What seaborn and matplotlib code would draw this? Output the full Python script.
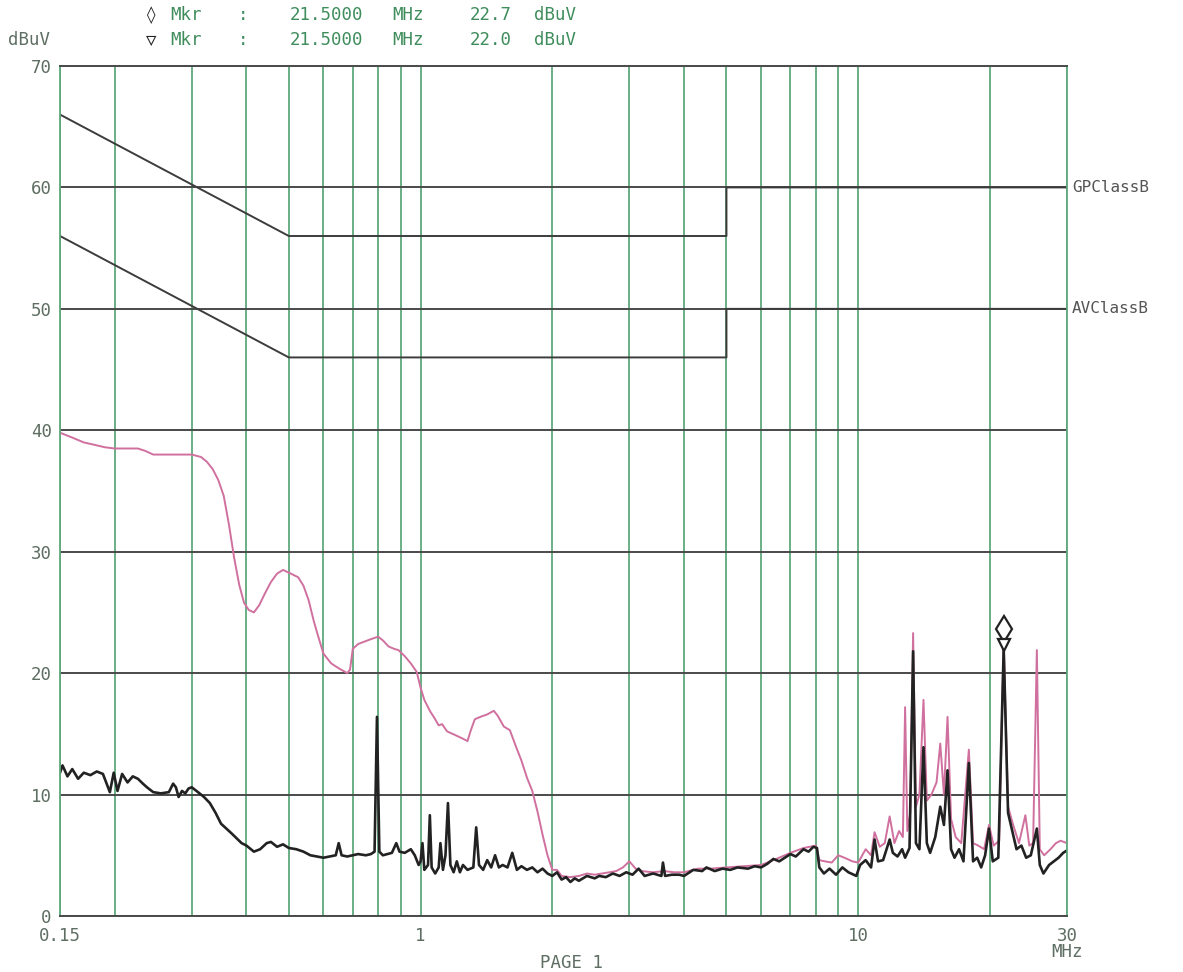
import numpy as np
import pandas as pd
import matplotlib
matplotlib.use("Agg")
import matplotlib.pyplot as plt
import seaborn as sns
from matplotlib.transforms import offset_copy

# ---------------- data ----------------
av_freq = [0.150, 0.152, 0.156, 0.160, 0.165, 0.170, 0.176, 0.182, 0.188, 0.195,
           0.199, 0.203, 0.208, 0.214, 0.220, 0.226, 0.232, 0.237, 0.245, 0.255,
           0.266, 0.272, 0.276, 0.280, 0.285, 0.290, 0.295, 0.300, 0.310, 0.320,
           0.330, 0.340, 0.350, 0.360, 0.370, 0.380, 0.390, 0.400, 0.416, 0.430,
           0.445, 0.455, 0.470, 0.485, 0.500, 0.520, 0.540, 0.560, 0.580, 0.600,
           0.620, 0.640, 0.650, 0.660, 0.680, 0.700, 0.720, 0.750, 0.770, 0.785,
           0.795, 0.805, 0.820, 0.840, 0.860, 0.880, 0.895, 0.920, 0.950, 0.970,
           0.990, 1.000, 1.010, 1.020, 1.040, 1.050, 1.060, 1.080, 1.100, 1.110,
           1.125, 1.140, 1.155, 1.170, 1.190, 1.210, 1.230, 1.250, 1.280, 1.320,
           1.340, 1.360, 1.390, 1.420, 1.450, 1.480, 1.510, 1.540, 1.580, 1.620,
           1.660, 1.700, 1.750, 1.800, 1.850, 1.900, 1.950, 2.000, 2.050, 2.100,
           2.150, 2.200, 2.250, 2.300, 2.400, 2.500, 2.560, 2.650, 2.750, 2.850,
           2.950, 3.050, 3.150, 3.250, 3.400, 3.550, 3.580, 3.620, 3.750, 3.900,
           4.000, 4.200, 4.400, 4.500, 4.700, 4.900, 5.100, 5.300, 5.600, 5.800,
           6.000, 6.200, 6.400, 6.600, 6.800, 7.000, 7.200, 7.500, 7.700, 7.900,
           8.050, 8.150, 8.350, 8.600, 8.900, 9.200, 9.500, 9.900, 10.100, 10.400,
           10.700, 10.900, 11.100, 11.400, 11.800, 12.000, 12.300, 12.600, 12.800, 13.100,
           13.350, 13.550, 13.800, 14.100, 14.350, 14.600, 15.000, 15.400, 15.700, 16.000,
           16.300, 16.600, 17.000, 17.400, 17.900, 18.300, 18.700, 19.100, 19.500, 19.900,
           20.300, 20.900, 21.500, 22.000, 22.500, 23.000, 23.600, 24.200, 24.800, 25.600,
           26.000, 26.500, 27.300, 28.000, 28.700, 29.400, 30.000]
av_level = [11.8, 12.4, 11.5, 12.1, 11.3, 11.8, 11.6, 11.9, 11.7, 10.2,
            11.8, 10.3, 11.7, 11.0, 11.5, 11.3, 10.9, 10.6, 10.2, 10.1,
            10.2, 10.9, 10.6, 9.8, 10.3, 10.1, 10.5, 10.6, 10.2, 9.8,
            9.3, 8.5, 7.6, 7.2, 6.8, 6.4, 6.0, 5.8, 5.3, 5.5,
            6.0, 6.1, 5.7, 5.9, 5.6, 5.5, 5.3, 5.0, 4.9, 4.8,
            4.9, 5.0, 6.0, 5.0, 4.9, 5.0, 5.1, 5.0, 5.1, 5.3,
            16.4, 5.3, 5.0, 5.1, 5.2, 6.0, 5.3, 5.2, 5.5, 5.0,
            4.2, 4.5, 6.0, 3.8, 4.2, 8.3, 4.0, 3.5, 4.0, 6.0,
            3.8, 5.0, 9.3, 4.2, 3.6, 4.5, 3.6, 4.2, 3.8, 4.0,
            7.3, 4.2, 3.8, 4.6, 4.0, 5.0, 4.0, 4.2, 4.0, 5.2,
            3.8, 4.1, 3.8, 4.0, 3.6, 3.9, 3.5, 3.3, 3.6, 3.0,
            3.2, 2.8, 3.1, 2.9, 3.3, 3.1, 3.3, 3.2, 3.5, 3.3,
            3.6, 3.4, 3.9, 3.3, 3.5, 3.3, 4.4, 3.3, 3.4, 3.4,
            3.3, 3.8, 3.7, 4.0, 3.7, 3.9, 3.8, 4.0, 3.9, 4.1,
            4.0, 4.3, 4.7, 4.5, 4.8, 5.1, 4.9, 5.5, 5.3, 5.7,
            5.6, 4.0, 3.5, 3.9, 3.4, 4.0, 3.6, 3.3, 4.2, 4.6,
            4.0, 6.3, 4.5, 4.6, 6.3, 5.2, 4.9, 5.5, 4.8, 5.6,
            21.8, 6.0, 5.5, 13.9, 6.0, 5.2, 6.5, 9.0, 7.5, 12.0,
            5.5, 4.8, 5.5, 4.5, 12.6, 4.5, 4.8, 4.0, 5.0, 7.2,
            4.5, 4.8, 22.0, 8.5, 7.0, 5.5, 5.8, 4.8, 5.0, 7.2,
            4.2, 3.5, 4.2, 4.5, 4.8, 5.2, 5.4]

qp_freq = [0.150, 0.160, 0.170, 0.180, 0.190, 0.200, 0.215, 0.226, 0.235, 0.245,
           0.260, 0.280, 0.300, 0.315, 0.325, 0.335, 0.345, 0.355, 0.365, 0.375,
           0.385, 0.395, 0.405, 0.416, 0.428, 0.440, 0.455, 0.470, 0.485, 0.505,
           0.525, 0.540, 0.555, 0.570, 0.585, 0.600, 0.625, 0.650, 0.680, 0.690,
           0.700, 0.720, 0.745, 0.770, 0.800, 0.820, 0.845, 0.870, 0.890, 0.920,
           0.950, 0.980, 1.000, 1.020, 1.050, 1.080, 1.100, 1.120, 1.150, 1.200,
           1.250, 1.280, 1.300, 1.330, 1.370, 1.420, 1.470, 1.500, 1.550, 1.600,
           1.650, 1.700, 1.750, 1.800, 1.850, 1.900, 1.950, 2.000, 2.050, 2.100,
           2.200, 2.300, 2.400, 2.500, 2.600, 2.700, 2.800, 2.900, 3.000, 3.100,
           3.200, 3.400, 3.600, 3.800, 4.000, 4.300, 4.600, 5.000, 5.500, 6.000,
           6.500, 7.000, 7.500, 8.000, 8.150, 8.400, 8.700, 9.000, 9.300, 9.700,
           10.000, 10.400, 10.700, 10.900, 11.200, 11.500, 11.800, 12.100, 12.400, 12.650,
           12.800, 12.950, 13.150, 13.350, 13.550, 13.800, 14.100, 14.350, 14.700, 15.100,
           15.400, 15.700, 16.000, 16.300, 16.700, 17.200, 17.900, 18.300, 18.800, 19.400,
           19.900, 20.400, 21.000, 21.500, 22.000, 22.600, 23.300, 24.100, 24.600, 25.100,
           25.600, 26.000, 26.600, 27.500, 28.300, 29.000, 30.000]
qp_level = [39.8, 39.4, 39.0, 38.8, 38.6, 38.5, 38.5, 38.5, 38.3, 38.0,
            38.0, 38.0, 38.0, 37.8, 37.4, 36.8, 35.9, 34.6, 32.2, 29.5,
            27.3, 25.8, 25.2, 25.0, 25.6, 26.5, 27.5, 28.2, 28.5, 28.2,
            27.9, 27.2, 26.0, 24.3, 22.9, 21.6, 20.8, 20.4, 20.0, 20.3,
            22.0, 22.4, 22.6, 22.8, 23.0, 22.7, 22.2, 22.0, 21.9, 21.4,
            20.8, 20.1, 18.8, 17.8, 16.9, 16.2, 15.7, 15.8, 15.2, 14.9,
            14.6, 14.4, 15.2, 16.2, 16.4, 16.6, 16.9, 16.5, 15.6, 15.3,
            14.0, 12.8, 11.4, 10.3, 8.6, 6.7, 5.0, 3.8, 3.8, 3.3,
            3.2, 3.3, 3.5, 3.4, 3.5, 3.6, 3.7, 4.0, 4.5, 3.9,
            3.7, 3.6, 3.7, 3.6, 3.6, 3.9, 3.9, 4.0, 4.1, 4.2,
            4.7, 5.2, 5.6, 5.8, 4.6, 4.5, 4.4, 5.0, 4.8, 4.5,
            4.4, 5.5, 5.0, 6.9, 5.7, 6.0, 8.2, 6.0, 7.0, 6.5,
            17.2, 7.0, 8.5, 23.3, 9.0, 10.0, 17.8, 9.5, 10.0, 11.0,
            14.2, 10.0, 16.4, 8.0, 6.5, 6.0, 13.7, 6.0, 5.8, 5.5,
            7.5, 5.8, 6.2, 22.7, 9.0, 7.5, 6.0, 8.3, 5.8, 6.0,
            21.9, 5.5, 5.0, 5.5, 6.0, 6.2, 6.0]

# limit lines (EN 55022 class B)
qp_limit_freq = [0.15, 0.5, 5.0, 5.0, 30.0]
qp_limit_level = [66, 56, 56, 60, 60]
av_limit_freq = [0.15, 0.5, 5.0, 5.0, 30.0]
av_limit_level = [56, 46, 46, 50, 50]
limit_names = ["GPClassB", "AVClassB"]

marker_freq = 21.5
marker_qp = 22.7
marker_av = 22.0

x_ticks = [0.15, 1, 10, 30]
x_tick_labels = ["0.15", "1", "10", "30"]
x_minor = [0.2, 0.3, 0.4, 0.5, 0.6, 0.7, 0.8, 0.9, 2, 3, 4, 5, 6, 7, 8, 9, 20]
y_ticks = [0, 10, 20, 30, 40, 50, 60, 70]

# ---------------- styling ----------------
sns.set_style("white")
plt.rcParams["font.family"] = ["DejaVu Sans Mono", "DejaVu Sans"]

GREEN = "#5fa87c"
DARK = "#4a4a4a"
PINK = "#d0709f"
BLACK = "#222222"
TXT = "#5e6e62"
HDR = "#3f8d5c"

W, H = 1183, 972
fig = plt.figure(figsize=(W / 100, H / 100), dpi=100)
L, R, T, B = 60, 1067, 66, 916
ax = fig.add_axes([L / W, 1 - B / H, (R - L) / W, (B - T) / H])

ax.set_xscale("log")
ax.set_xlim(0.15, 30)
ax.set_ylim(0, 70)

ax.set_xticks(x_ticks)
ax.set_xticklabels(x_tick_labels)
ax.set_xticks(x_minor, minor=True)
ax.xaxis.set_minor_formatter(matplotlib.ticker.NullFormatter())
ax.set_yticks(y_ticks)
ax.set_yticklabels([str(v) for v in y_ticks])
ax.tick_params(axis="both", which="both", length=0, labelsize=12.5, colors=TXT)
ax.tick_params(axis="x", pad=8)
ax.tick_params(axis="y", pad=6)

ax.grid(axis="x", which="both", color=GREEN, lw=1.3)
ax.grid(axis="y", which="major", color=DARK, lw=1.4)
for s in ["left", "right"]:
    ax.spines[s].set_color(GREEN)
    ax.spines[s].set_linewidth(1.3)
for s in ["top", "bottom"]:
    ax.spines[s].set_color(DARK)
    ax.spines[s].set_linewidth(1.4)

# limits
lim_df = pd.DataFrame({
    "freq": qp_limit_freq + av_limit_freq,
    "level": qp_limit_level + av_limit_level,
    "limit": [limit_names[0]] * len(qp_limit_freq) + [limit_names[1]] * len(av_limit_freq),
})
sns.lineplot(data=lim_df, x="freq", y="level", units="limit", estimator=None,
             sort=False, color="#3c3c3c", lw=1.4, ax=ax, legend=False)

# traces
qp_df = pd.DataFrame({"freq": qp_freq, "level": qp_level})
av_df = pd.DataFrame({"freq": av_freq, "level": av_level})
sns.lineplot(data=qp_df, x="freq", y="level", estimator=None, sort=False,
             color=PINK, lw=1.4, ax=ax)
sns.lineplot(data=av_df, x="freq", y="level", estimator=None, sort=False,
             color=BLACK, lw=1.9, ax=ax)

ax.set_xlabel("")
ax.set_ylabel("")

# marker symbols
tr_d = offset_copy(ax.transData, fig=fig, x=0, y=11, units="dots")
tr_v = offset_copy(ax.transData, fig=fig, x=0, y=4, units="dots")
ax.plot([marker_freq], [marker_qp], transform=tr_d, marker="d", ms=13,
        mfc="white", mec=BLACK, mew=1.6, ls="none", clip_on=False, zorder=5)
ax.plot([marker_freq], [marker_av], transform=tr_v, marker="v", ms=8,
        mfc="white", mec=BLACK, mew=1.6, ls="none", clip_on=False, zorder=5)

# limit labels
lab_tr = offset_copy(ax.get_yaxis_transform(), fig=fig, x=5, y=0, units="dots")
ax.text(1.0, qp_limit_level[-1], limit_names[0], transform=lab_tr, ha="left",
        va="center", fontsize=11.5, color="#555555")
ax.text(1.0, av_limit_level[-1], limit_names[1], transform=lab_tr, ha="left",
        va="center", fontsize=11.5, color="#555555")

# header
def ftext(x, y, s, **kw):
    fig.text(x / W, 1 - y / H, s, va="center", fontsize=12.5, **kw)

for row_y, sym, val in [(15, "\u25ca", f"{marker_qp:.1f}"), (40, "\u25bd", f"{marker_av:.1f}")]:
    ftext(146, row_y, sym, color=BLACK, ha="left")
    ftext(170, row_y, "Mkr", color=HDR, ha="left")
    ftext(238, row_y, ":", color=HDR, ha="left")
    ftext(290, row_y, f"{marker_freq:.4f}", color=HDR, ha="left")
    ftext(392, row_y, "MHz", color=HDR, ha="left")
    ftext(470, row_y, val, color=HDR, ha="left")
    ftext(534, row_y, "dBuV", color=HDR, ha="left")

ftext(8, 40, "dBuV", color=TXT, ha="left")
ftext(1067, 952, "MHz", color=TXT, ha="center")
ftext(572, 963, "PAGE 1", color=TXT, ha="center")

fig.savefig("out.png", dpi=100, facecolor="white")
